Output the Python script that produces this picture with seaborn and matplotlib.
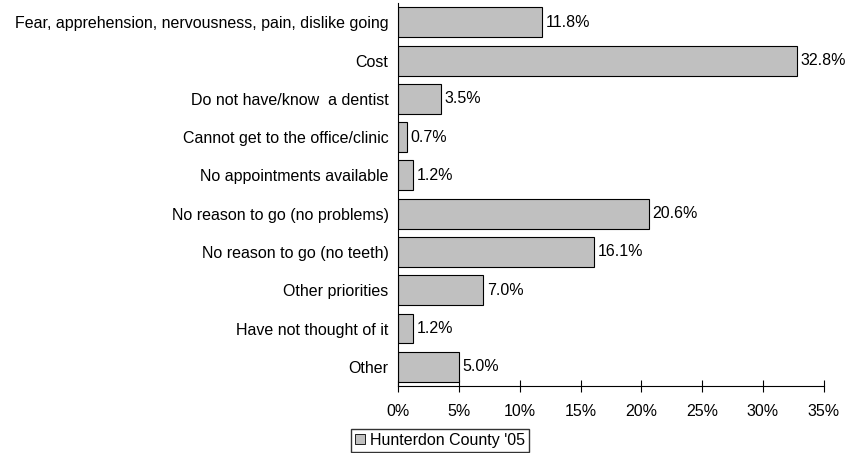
import seaborn as sns
import matplotlib.pyplot as plt
import pandas as pd
from matplotlib.patches import Patch

categories = [
    'Fear, apprehension, nervousness, pain, dislike going',
    'Cost',
    'Do not have/know  a dentist',
    'Cannot get to the office/clinic',
    'No appointments available',
    'No reason to go (no problems)',
    'No reason to go (no teeth)',
    'Other priorities',
    'Have not thought of it',
    'Other',
]
values = [11.8, 32.8, 3.5, 0.7, 1.2, 20.6, 16.1, 7.0, 1.2, 5.0]
series_name = "Hunterdon County '05"
xticks = [0, 5, 10, 15, 20, 25, 30, 35]

df = pd.DataFrame({'Reason': categories, 'Percent': values})

sns.set_style('white')
plt.rcParams['font.family'] = ['Liberation Sans', 'DejaVu Sans']
plt.rcParams['text.color'] = 'black'

fs = 11.5
fig = plt.figure(figsize=(8.51, 4.53), dpi=100)
ax = fig.add_axes([0.468, 0.148, 0.5, 0.845])

sns.barplot(data=df, x='Percent', y='Reason', orient='h', color='#c0c0c0',
            edgecolor='black', linewidth=0.8, width=0.78, saturation=1, ax=ax)

for p, v in zip(ax.patches, values):
    ax.text(p.get_width() + 0.3, p.get_y() + p.get_height() / 2, f'{v:.1f}%',
            va='center', ha='left', fontsize=fs, color='black')

ax.set_xlim(0, 35)
ax.set_ylim(len(categories) - 0.5, -0.5)
ax.set_xticks(xticks)
ax.set_xticklabels([f'{t}%' for t in xticks], fontsize=fs)
ax.tick_params(axis='x', bottom=True, direction='inout', length=8, width=0.8,
               pad=9, colors='black')
ax.tick_params(axis='y', left=False, length=0, labelsize=fs, pad=7, colors='black')
ax.set_xlabel('')
ax.set_ylabel('')
for s in ['top', 'right']:
    ax.spines[s].set_visible(False)
for s in ['left', 'bottom']:
    ax.spines[s].set_color('black')
    ax.spines[s].set_linewidth(0.8)

handle = Patch(facecolor='#c0c0c0', edgecolor='black', linewidth=0.6)
fig.legend([handle], [series_name], loc='center', bbox_to_anchor=(0.517, 0.028),
           frameon=True, fancybox=False, edgecolor='black', fontsize=fs,
           handlelength=0.6, handleheight=0.6, handletextpad=0.3, borderpad=0.25,
           borderaxespad=0)

fig.savefig('out.png', dpi=100)
